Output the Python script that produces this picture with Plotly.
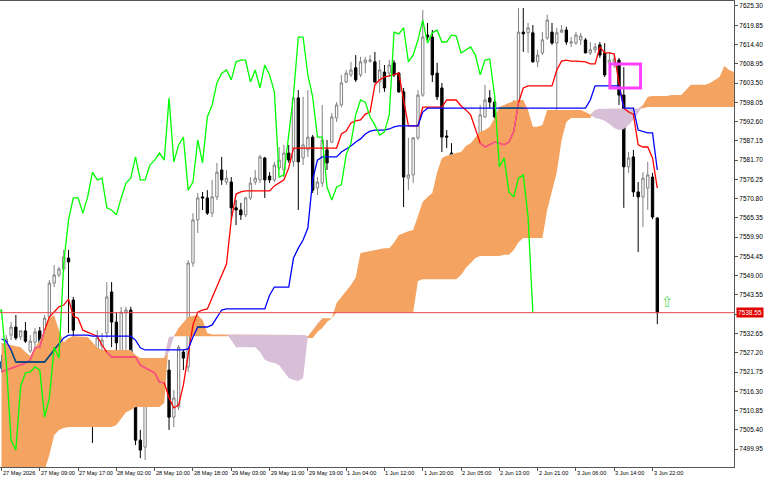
import numpy as np
import plotly.graph_objects as go

# ---------------- data ----------------
time_labels = ["27 May 2026", "27 May 09:00", "27 May 17:00", "28 May 02:00", "28 May 10:00",
               "28 May 18:00", "29 May 03:00", "29 May 11:00", "29 May 19:00", "1 Jun 04:00",
               "1 Jun 12:00", "1 Jun 20:00", "2 Jun 05:00", "2 Jun 13:00", "2 Jun 21:00",
               "3 Jun 06:00", "3 Jun 14:00", "3 Jun 22:00"]
time_label_bars = [0, 8, 16, 24, 32, 40, 48, 56, 64, 72, 80, 88, 96, 104, 112, 120, 128, 136]

price_ticks = [7625.30, 7619.85, 7614.40, 7608.95, 7603.50, 7598.05, 7592.60, 7587.15,
               7581.70, 7576.25, 7570.80, 7565.35, 7559.90, 7554.45, 7549.00, 7543.55,
               7538.10, 7532.65, 7527.20, 7521.75, 7516.30, 7510.85, 7505.40, 7499.95]

opens = [
    7524.6, 7529.7, 7532.2, 7534.5, 7531.7, 7533.4, 7527.7, 7530.2, 7533.4, 7531.7,
    7537.3, 7546.9, 7549.2, 7550.9, 7554.0, 7542.1, 7527.4, 7519.5, 7513.3, 7520.3,
    7519.5, 7529.1, 7532.8, 7544.4, 7535.9, 7522.9, 7538.5, 7539.3, 7523.2, 7502.5,
    7500.5, 7518.1, 7518.7, 7521.8, 7523.2, 7522.3, 7509.0, 7511.9, 7527.4, 7523.2,
    7552.6, 7564.8, 7571.3, 7571.0, 7566.7, 7571.3, 7578.9, 7575.5, 7575.5, 7568.2,
    7567.6, 7566.2, 7571.0, 7575.5, 7576.1, 7582.3, 7577.2, 7576.1, 7579.5, 7578.9,
    7583.7, 7581.2, 7599.3, 7582.3, 7584.6, 7588.2, 7573.8, 7575.2, 7584.6, 7586.8,
    7593.6, 7597.3, 7603.8, 7605.8, 7607.8, 7605.8, 7609.2, 7609.7, 7609.5, 7603.8,
    7606.6, 7606.3, 7609.2, 7606.3, 7601.0, 7576.6, 7577.5, 7588.0, 7600.1, 7617.1,
    7616.5, 7606.3, 7602.1, 7588.5, 7583.7, 7573.8, 7571.0, 7574.1, 7574.1, 7583.2,
    7586.5, 7593.9, 7599.3, 7598.1, 7594.5, 7594.5, 7588.2, 7589.7, 7590.2, 7617.9,
    7617.7, 7617.7, 7609.5, 7612.0, 7616.2, 7617.9, 7614.8, 7617.9, 7618.5, 7614.8,
    7614.8, 7615.7, 7615.7, 7612.0, 7612.9, 7614.3, 7612.0, 7609.2, 7609.5, 7610.0,
    7600.1, 7579.8, 7582.6, 7572.7, 7571.3, 7573.8, 7576.9, 7565.3]
highs = [
    7526.6, 7532.2, 7535.9, 7537.9, 7533.6, 7535.9, 7532.2, 7534.2, 7534.5, 7537.9,
    7547.8, 7552.0, 7551.5, 7556.3, 7556.3, 7543.0, 7530.0, 7521.5, 7520.9, 7524.3,
    7533.6, 7532.8, 7547.2, 7547.2, 7538.7, 7540.2, 7540.2, 7540.2, 7526.0, 7505.4,
    7520.1, 7524.3, 7524.3, 7525.2, 7525.2, 7525.2, 7516.7, 7529.4, 7528.0, 7553.4,
    7566.7, 7572.4, 7572.7, 7573.2, 7576.1, 7580.9, 7582.6, 7578.9, 7576.9, 7570.4,
    7569.6, 7571.3, 7576.9, 7578.9, 7583.2, 7582.6, 7578.3, 7581.2, 7585.4, 7586.0,
    7586.0, 7600.1, 7601.5, 7599.6, 7601.5, 7588.8, 7576.9, 7597.3, 7587.4, 7595.0,
    7598.1, 7605.8, 7607.2, 7609.5, 7611.4, 7610.9, 7610.9, 7611.4, 7612.3, 7610.0,
    7608.6, 7610.0, 7610.0, 7606.6, 7602.1, 7588.0, 7588.2, 7601.5, 7624.2, 7620.5,
    7618.5, 7609.2, 7603.5, 7590.2, 7586.5, 7576.6, 7575.5, 7578.9, 7585.4, 7588.0,
    7597.3, 7603.0, 7601.5, 7598.7, 7596.7, 7595.0, 7591.6, 7598.7, 7624.7, 7624.7,
    7620.5, 7619.9, 7612.9, 7617.9, 7622.8, 7620.5, 7619.1, 7619.9, 7619.4, 7616.5,
    7617.9, 7617.7, 7616.2, 7615.1, 7614.8, 7615.1, 7614.8, 7612.3, 7611.4, 7610.6,
    7608.0, 7584.0, 7584.6, 7575.5, 7578.3, 7581.2, 7578.1, 7565.6]
lows = [
    7521.8, 7528.0, 7530.8, 7530.8, 7530.8, 7530.0, 7527.1, 7528.8, 7529.4, 7530.8,
    7536.5, 7545.8, 7548.6, 7550.1, 7532.8, 7519.5, 7513.3, 7510.4, 7507.3, 7501.7,
    7518.9, 7527.4, 7531.4, 7528.8, 7524.3, 7522.3, 7528.0, 7523.2, 7501.1, 7497.4,
    7496.9, 7514.7, 7515.3, 7517.5, 7517.2, 7505.4, 7506.2, 7511.0, 7522.3, 7521.8,
    7551.5, 7561.1, 7567.6, 7566.2, 7565.6, 7570.4, 7574.7, 7574.7, 7564.8, 7563.3,
    7564.8, 7565.6, 7570.4, 7574.7, 7575.2, 7571.0, 7575.2, 7575.5, 7578.9, 7576.9,
    7580.9, 7579.8, 7567.6, 7580.3, 7582.6, 7572.4, 7571.8, 7574.1, 7578.9, 7586.5,
    7592.5, 7596.7, 7603.5, 7605.2, 7603.8, 7605.2, 7606.3, 7609.2, 7603.5, 7600.7,
    7601.0, 7605.2, 7605.2, 7600.7, 7568.4, 7573.2, 7575.2, 7587.4, 7599.6, 7615.7,
    7603.8, 7598.7, 7584.0, 7585.1, 7572.7, 7569.6, 7569.6, 7569.6, 7573.8, 7580.9,
    7586.0, 7593.6, 7596.4, 7591.6, 7591.1, 7588.2, 7587.4, 7580.9, 7589.4, 7612.3,
    7612.0, 7609.2, 7608.0, 7611.4, 7615.7, 7614.3, 7595.9, 7617.7, 7614.3, 7613.7,
    7614.3, 7614.3, 7612.0, 7611.4, 7612.0, 7610.6, 7605.2, 7608.0, 7607.8, 7597.3,
    7568.2, 7578.1, 7571.3, 7555.7, 7562.8, 7567.6, 7565.0, 7535.3]
closes = [
    7522.9, 7531.1, 7534.5, 7531.4, 7533.4, 7530.5, 7530.5, 7533.1, 7530.0, 7537.0,
    7546.9, 7549.2, 7550.9, 7554.3, 7552.9, 7533.6, 7521.5, 7513.8, 7520.1, 7519.8,
    7531.4, 7530.8, 7543.0, 7535.9, 7530.0, 7538.7, 7539.3, 7524.3, 7502.5, 7499.7,
    7517.8, 7521.5, 7521.8, 7523.2, 7522.3, 7509.0, 7514.4, 7528.8, 7525.7, 7552.6,
    7564.8, 7571.0, 7571.0, 7566.7, 7571.3, 7578.3, 7576.1, 7576.6, 7568.2, 7567.6,
    7566.2, 7571.0, 7575.2, 7576.6, 7582.6, 7576.1, 7576.1, 7580.3, 7581.7, 7583.7,
    7581.7, 7599.3, 7581.2, 7586.0, 7588.2, 7573.2, 7575.5, 7587.4, 7580.9, 7593.9,
    7597.3, 7603.5, 7606.3, 7607.2, 7604.4, 7609.5, 7610.0, 7610.0, 7603.8, 7607.2,
    7602.1, 7608.6, 7605.8, 7601.0, 7576.9, 7577.5, 7588.0, 7600.1, 7616.5, 7616.5,
    7605.8, 7599.6, 7588.2, 7588.2, 7574.1, 7570.4, 7574.1, 7574.7, 7583.2, 7586.5,
    7594.5, 7598.7, 7598.1, 7593.9, 7591.6, 7588.8, 7589.7, 7594.5, 7617.9, 7617.4,
    7619.1, 7609.5, 7611.4, 7615.7, 7621.3, 7614.8, 7617.7, 7618.5, 7615.1, 7615.1,
    7617.1, 7616.8, 7612.0, 7612.9, 7613.7, 7611.4, 7605.8, 7610.0, 7610.3, 7600.1,
    7579.8, 7582.3, 7572.7, 7571.3, 7576.6, 7577.5, 7565.6, 7538.55]

tenkan = ([7521.8, 7522.3, 7522.9, 7523.5, 7524.0, 7524.3, 7525.2, 7528.6, 7528.8, 7533.6,
           7537.3, 7538.7, 7540.2, 7540.7, 7542.4, 7537.6, 7537.0, 7533.6, 7533.1, 7532.5,
           7531.9, 7529.4, 7527.4] + [7526.0] * 6 +
          [7523.7, 7522.9, 7522.3, 7521.5, 7518.9, 7518.7, 7514.4, 7511.6, 7512.4, 7518.1,
           7526.6, 7535.1, 7538.7, 7539.3, 7539.6, 7542.7, 7545.8, 7548.9, 7552.3, 7564.8,
           7572.1, 7572.7] + [7573.0] * 6 +
          [7574.4, 7575.2, 7576.1, 7579.5] + [7585.1] * 10 +
          [7589.1, 7589.9, 7592.2, 7592.8, 7593.1, 7594.7, 7595.3, 7603.0, 7604.4, 7605.2,
           7605.5, 7605.8, 7606.3, 7598.7] + [7591.4] * 3 + [7596.7] * 5 + [7598.7] * 3 +
          [7597.0, 7595.9, 7594.5, 7590.2, 7586.5, 7585.4, 7586.0, 7586.8, 7586.5, 7586.0,
           7586.8, 7589.7, 7597.9, 7602.1] + [7602.7] * 6 +
          [7607.2, 7609.7, 7610.0, 7609.7, 7609.7, 7609.5, 7609.5, 7608.9, 7608.9, 7613.7,
           7612.0, 7612.0, 7611.7, 7603.5, 7596.4, 7595.3, 7594.7, 7586.0, 7585.4, 7585.4,
           7582.3, 7573.8])

kijun = ([7531.1, 7530.5, 7528.0] + [7524.6] * 7 + [7526.3, 7528.0, 7529.7, 7531.4] +
         [7532.2] * 5 + [7531.9] * 9 + [7530.8, 7528.6] + [7528.0] * 9 + [7528.3, 7531.7] +
         [7534.5] * 3 + [7535.1, 7537.3, 7539.3] + [7539.6] * 9 + [7543.5] + [7545.8] * 4 +
         [7554.0, 7556.8, 7559.1, 7562.5, 7576.1, 7581.7] + [7582.6] * 4 +
         [7584.0, 7584.8, 7585.7, 7586.8, 7587.7, 7589.1, 7589.9] + [7590.2] * 3 +
         [7590.5, 7591.1] + [7591.4] * 5 + [7595.3] + [7596.4] * 34 + [7598.7] +
         [7602.7] * 6 + [7596.4] * 3 + [7590.2, 7589.9] + [7589.4] * 2 + [7578.9])

span_a = ([7530.0, 7529.7, 7529.4, 7529.1, 7528.8, 7527.4, 7526.3, 7528.6, 7530.8, 7533.6,
           7537.0, 7537.9, 7533.6, 7530.2, 7531.4, 7531.9, 7531.9, 7531.9, 7531.7, 7530.2,
           7528.6] + [7528.0] * 7 + [7526.6] + [7525.7] * 6 +
          [7527.4, 7531.7, 7534.2, 7535.9, 7537.3, 7537.6, 7537.9, 7536.5, 7532.8] +
          [7532.4] * 4 + [7530.8] + [7528.8] * 5 +
          [7527.4, 7525.2, 7524.6, 7524.3, 7523.7, 7521.8, 7520.1, 7519.5, 7519.2, 7520.1,
           7531.9, 7533.6, 7535.6] + [7537.0] * 3 +
          [7541.3, 7543.0, 7545.0, 7546.4, 7548.6, 7555.4, 7555.7, 7556.0, 7556.3, 7556.6,
           7556.8, 7556.8, 7558.3, 7560.5, 7561.1, 7561.6, 7561.9, 7566.2, 7569.9, 7571.3,
           7572.4, 7578.3, 7582.3, 7582.9, 7583.4, 7583.7, 7584.0, 7585.7, 7586.5, 7588.0,
           7589.7, 7590.2, 7591.1, 7593.6, 7596.7, 7597.3, 7597.9, 7598.4, 7598.7, 7598.7,
           7595.9, 7591.1, 7591.1, 7591.6] + [7595.9] * 8 +
          [7595.3, 7594.5, 7593.6, 7593.3, 7592.8, 7591.9, 7590.8, 7590.2, 7590.5, 7591.6,
           7593.1, 7595.0, 7597.3, 7599.6] + [7599.8] * 4 + [7600.1] * 3 + [7601.5] +
          [7603.0] * 4 + [7603.5, 7604.4, 7605.2, 7608.3, 7607.2, 7606.6])

span_b = ([7492.6] * 9 + [7494.0, 7498.3, 7503.9, 7505.4, 7505.9] + [7506.2] * 10 +
          [7506.8, 7508.7, 7510.4, 7511.0] + [7511.9] * 6 + [7513.0, 7531.7] +
          [7531.9] * 12 + [7532.2] * 16 +
          [7531.4, 7531.4, 7533.1, 7534.2, 7535.9, 7537.0] + [7538.7] * 17 + [7547.5] +
          [7548.0] * 8 + [7549.2, 7551.2, 7552.6, 7554.0] + [7554.6] * 5 + [7554.9] * 2 +
          [7556.3, 7558.5] + [7559.7] * 5 + [7567.6, 7573.2, 7578.3, 7587.4, 7592.5] +
          [7593.6] * 5 + [7595.9] + [7596.2] * 9 + [7596.4] + [7596.7] * 19)

chikou_shift = 26
last_price = 7538.55
box_bars = (127.1, 133.5)
box_prices = (7602.1, 7608.9)
arrow_bar, arrow_price = 139.2, 7541.6

n = len(closes)
assert len(opens) == n and len(highs) == n and len(lows) == n, "ohlc len"
assert len(tenkan) == n, ("tenkan", len(tenkan))
assert len(kijun) == n, ("kijun", len(kijun))
assert len(span_a) == len(span_b), (len(span_a), len(span_b))

# ---------------- figure ----------------
SANDY, THISTLE = "#F4A460", "#D8BFD8"


def xor_col(base, fill):
    b = int(base[1:], 16)
    f = int(fill[1:], 16)
    return "#%06X" % (b ^ (0xFFFFFF ^ f))


bars = np.arange(n)
cb = np.arange(len(span_a))
A = np.array(span_a)
B = np.array(span_b)
orange_top = np.where(A > B, A, B)
thistle_top = np.where(B > A, B, A)

fig = go.Figure()
nol = dict(width=0, color="rgba(0,0,0,0)")
fig.add_trace(go.Scatter(x=cb, y=B, mode="lines", line=nol, hoverinfo="skip"))
fig.add_trace(go.Scatter(x=cb, y=orange_top, mode="lines", line=nol, fill="tonexty",
                         fillcolor=SANDY, hoverinfo="skip"))
fig.add_trace(go.Scatter(x=cb, y=A, mode="lines", line=nol, hoverinfo="skip"))
fig.add_trace(go.Scatter(x=cb, y=thistle_top, mode="lines", line=nol, fill="tonexty",
                         fillcolor=THISTLE, hoverinfo="skip"))


def region(i):
    if i >= len(A):
        return None
    if A[i] > B[i]:
        return ("o", B[i], A[i])
    if B[i] > A[i]:
        return ("t", A[i], B[i])
    return None


# candles
fig.add_trace(go.Candlestick(
    x=bars, open=opens, high=highs, low=lows, close=closes,
    increasing=dict(line=dict(color="#808080", width=1), fillcolor="#FFFFFF"),
    decreasing=dict(line=dict(color="#000000", width=1), fillcolor="#000000"),
    whiskerwidth=0, hoverinfo="skip"))

# bear candles seen through the cloud (MT5 xor filling)
for reg, fill in (("o", SANDY), ("t", THISTLE)):
    xs, oo, hh, ll, cc = [], [], [], [], []
    for i in range(n):
        r = region(i)
        if r is None or r[0] != reg or closes[i] >= opens[i]:
            continue
        lo, hi = r[1], r[2]
        bt, bb = min(opens[i], hi), max(closes[i], lo)
        if bt <= bb:
            continue
        xs.append(i)
        oo.append(bt)
        cc.append(bb)
        hh.append(min(highs[i], hi))
        ll.append(max(lows[i], lo))
    if xs:
        col = xor_col("#000000", fill)
        fig.add_trace(go.Candlestick(
            x=xs, open=oo, high=hh, low=ll, close=cc,
            increasing=dict(line=dict(color=col, width=1), fillcolor=col),
            decreasing=dict(line=dict(color=col, width=1), fillcolor=col),
            whiskerwidth=0, hoverinfo="skip"))

# tenkan / kijun
for vals, col in ((tenkan, "#FF0000"), (kijun, "#0000FF")):
    fig.add_trace(go.Scatter(x=bars, y=vals, mode="lines", line=dict(color=col, width=1.3),
                             hoverinfo="skip"))
    for reg, fill in (("o", SANDY), ("t", THISTLE)):
        ys = []
        for i, v in enumerate(vals):
            r = region(i)
            ys.append(v if (r is not None and r[0] == reg and r[1] <= v <= r[2]) else None)
        fig.add_trace(go.Scatter(x=bars, y=ys, mode="lines", connectgaps=False,
                                 line=dict(color=xor_col(col, fill), width=1.3),
                                 hoverinfo="skip"))

# chikou span
fig.add_trace(go.Scatter(x=bars - chikou_shift, y=closes, mode="lines",
                         line=dict(color="#00FF00", width=1.3), hoverinfo="skip"))

shapes = [
    dict(type="line", xref="paper", x0=0, x1=1, yref="y", y0=last_price, y1=last_price,
         line=dict(color="#E8474A", width=1), layer="above"),
    dict(type="rect", xref="x", yref="y", x0=box_bars[0], x1=box_bars[1],
         y0=box_prices[0], y1=box_prices[1], line=dict(color="#FF40FF", width=3),
         fillcolor="rgba(0,0,0,0)", layer="above"),
]

annotations = []
for b, t in zip(time_label_bars, time_labels):
    annotations.append(dict(x=b, y=0, xref="x", yref="paper", text=t, showarrow=False,
                            xanchor="left", yanchor="top", xshift=-1, yshift=-1,
                            font=dict(family="Liberation Sans", size=5.6, color="#000000")))
annotations.append(dict(x=1, y=last_price, xref="paper", yref="y", text=f"{last_price:.2f}",
                        showarrow=False, xanchor="left", yanchor="middle", xshift=2,
                        bgcolor="#E00000", borderpad=1,
                        font=dict(family="Liberation Sans", size=6.5, color="#FFFFFF")))
annotations.append(dict(x=arrow_bar, y=arrow_price, xref="x", yref="y", text="⇧",
                        showarrow=False, font=dict(family="DejaVu Sans", size=15,
                                                   color="#66DD66")))

tick_text = ["" if abs(v - last_price) < 1.0 else f"{v:.2f}" for v in price_ticks]

fig.update_layout(
    width=768, height=480, margin=dict(l=0, r=34, t=1, b=13),
    paper_bgcolor="#FFFFFF", plot_bgcolor="#FFFFFF", showlegend=False,
    shapes=shapes, annotations=annotations,
    xaxis=dict(type="linear", range=[-0.313, 153.02], showgrid=False, zeroline=False,
               showline=True, linecolor="#555555", linewidth=1, mirror=True,
               ticks="outside", ticklen=3, tickcolor="#555555",
               tickvals=time_label_bars, showticklabels=False,
               rangeslider=dict(visible=False)),
    yaxis=dict(side="right", range=[7494.9, 7626.7], showgrid=False, zeroline=False,
               showline=True, linecolor="#555555", linewidth=1,
               ticks="outside", ticklen=3, tickcolor="#555555",
               tickvals=price_ticks, ticktext=tick_text,
               tickfont=dict(family="Liberation Sans", size=6.5, color="#000000")),
)

fig.write_html(
    "out.html",
    config={"displayModeBar": False, "staticPlot": True},
    post_script="document.body.style.margin='0';document.body.style.padding='0';"
                "document.body.style.overflow='hidden';",
)
